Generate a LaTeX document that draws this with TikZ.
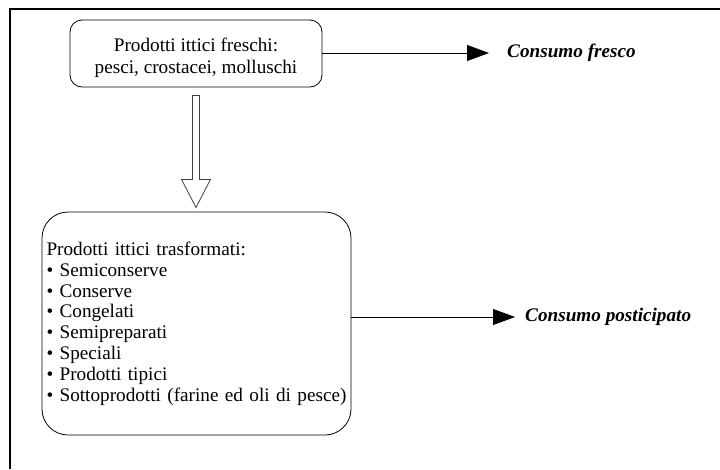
\documentclass[tikz,border=0pt]{standalone}
\usepackage{fontspec}
\setmainfont{Liberation Serif}
\usetikzlibrary{arrows.meta, positioning, calc}

\begin{document}
\begin{tikzpicture}[
    x=1pt, y=-1pt,
    box/.style={rectangle, rounded corners=#1, draw, line width=0.8pt, inner sep=0pt},
    arr/.style={-{Triangle[length=22pt, width=16pt]}, line width=0.8pt},
    hollow/.style={draw=black!75, line width=0.8pt, line join=miter},
    outcome/.style={anchor=west, inner ysep=0pt, font=\fontsize{19.2}{21}\selectfont\bfseries\itshape},
    every node/.style={font=\fontsize{19.2}{20.8}\selectfont}
]
\useasboundingbox (0,0) rectangle (720,469);

% Frame
\draw[line width=2pt] (10,469) -- (10,8.5) -- (720,8.5);

\node[box=12pt, minimum width=252pt, minimum height=67pt, align=center, font=\fontsize{19.2}{21.6}\selectfont] (fresh) at (196,53.5) {\rule{0pt}{22.2pt}Prodotti ittici freschi:\\pesci, crostacei, molluschi};
\node[box=26pt, minimum width=309pt, minimum height=223pt, text width=300pt, inner xsep=4.5pt, align=left] (proc) at (196.5,323.5) {Prodotti ittici trasformati:\\
• Semiconserve\\
• Conserve\\
• Congelati\\
• Semipreparati\\
• Speciali\\
• Prodotti tipici\\
• Sottoprodotti (farine ed oli di pesce)};

\node[outcome, inner xsep=18pt] (fresco) at (489,53) {Consumo fresco};
\node[outcome, inner xsep=10pt] (post) at (515,317) {Consumo posticipato};

\draw[arr] (fresh.east |- fresco.west) -- (fresco.west);
\draw[arr] (proc.east |- post.west) -- (post.west);

% Transformation
\draw[hollow] ($(fresh.south)+(-3.5,8)$) -- ++(0,84) -- ++(-11,0) -- ($(fresh.south)+(0,120)$) -- ($(fresh.south)+(14.5,92)$) -- ++(-11,0) -- ($(fresh.south)+(3.5,8)$) -- cycle;

\end{tikzpicture}
\end{document}
